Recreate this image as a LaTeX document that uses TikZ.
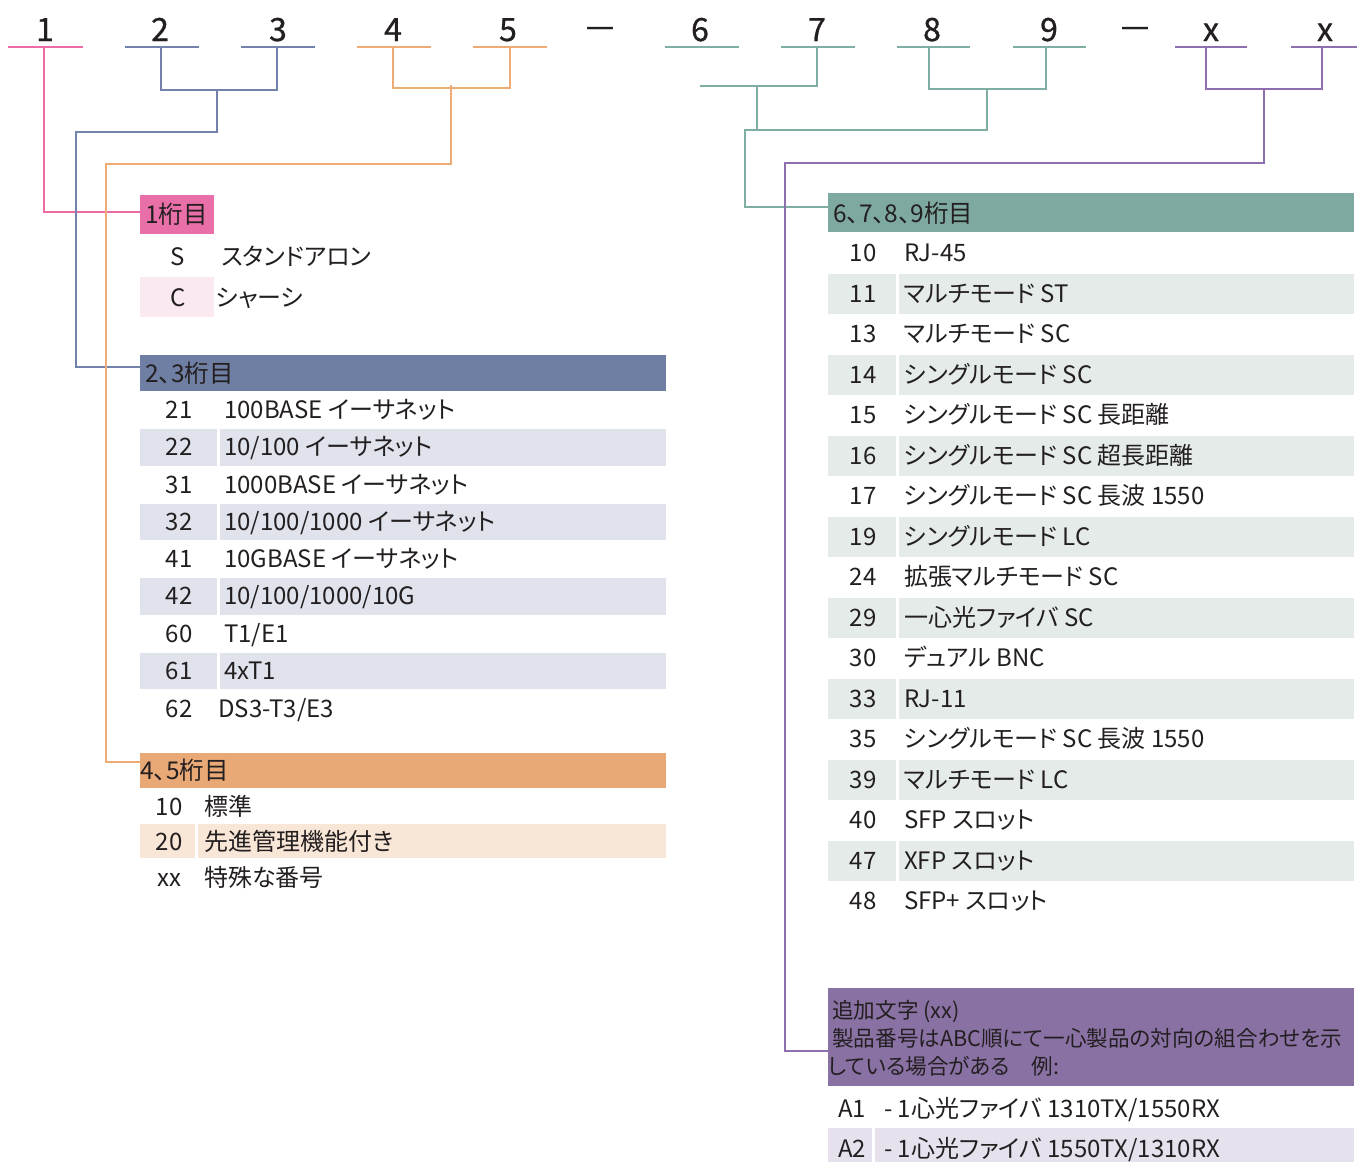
\documentclass[tikz,border=0pt]{standalone}
\usepackage{fontspec}
\setmainfont{Noto Sans CJK JP}[RawFeature=+palt]
\newfontfamily\topfont{Noto Sans CJK JP}[FakeBold=0.8]
\definecolor{txt}{HTML}{231F20}
\definecolor{pinkL}{HTML}{EC6DA6}
\definecolor{pinkH}{HTML}{E86FA7}
\definecolor{pinkS}{HTML}{FBE9F1}
\definecolor{blueL}{HTML}{7282A8}
\definecolor{blueH}{HTML}{6F7FA3}
\definecolor{blueS}{HTML}{E0E3EC}
\definecolor{oraL}{HTML}{EEAB74}
\definecolor{oraH}{HTML}{E8A976}
\definecolor{oraS}{HTML}{F8E6D6}
\definecolor{tealL}{HTML}{80AEA5}
\definecolor{tealH}{HTML}{7EA9A1}
\definecolor{tealS}{HTML}{E5EBE9}
\definecolor{purL}{HTML}{8E6FAD}
\definecolor{purH}{HTML}{8971A4}
\definecolor{purS}{HTML}{E7E1EE}
\begin{document}
\begin{tikzpicture}[x=1pt,y=-1pt,
  wire/.style={line width=2.5pt},
  dig/.style={font=\topfont\fontsize{32}{32}\selectfont, text=txt, inner sep=0pt, anchor=base},
  num/.style={font=\fontsize{24}{24}\selectfont, text=txt, inner sep=0pt, anchor=base},
  desc/.style={font=\fontsize{24}{24}\selectfont, text=txt, inner sep=0pt, anchor=base west},
  hbox/.style={inner sep=0pt, outer sep=0pt, anchor=north west},
  htext/.style={font=\fontsize{24.5}{24.5}\selectfont, text=txt, inner sep=0pt, anchor=base west},
  ptext/.style={font=\fontsize{21.6}{21.6}\selectfont, text=txt, inner sep=0pt, anchor=base west},
]
\useasboundingbox (0,0) rectangle (1357,1162);
\fill[white] (0,0) rectangle (1357,1162);

% ---------- top digit labels ----------
\node[dig] (d1) at (45,41) {1};
\node[dig] (d2) at (160,41) {2};
\node[dig] (d3) at (278,41) {3};
\node[dig] (d4) at (393,41) {4};
\node[dig] (d5) at (508,41) {5};
\node[dig] (dashA) at (600,37) {—};
\node[dig] (d6) at (700,41) {6};
\node[dig] (d7) at (817,41) {7};
\node[dig] (d8) at (932,41) {8};
\node[dig] (d9) at (1049,41) {9};
\node[dig] (dashB) at (1135,37) {—};
\node[dig] (dx1) at (1211,41) {x};
\node[dig] (dx2) at (1325,41) {x};

% underlines
\draw[wire,pinkL] (8,47) -- (83,47);
\draw[wire,blueL] (125,47) -- (199,47);
\draw[wire,blueL] (241,47) -- (315,47);
\draw[wire,oraL] (357,47) -- (431,47);
\draw[wire,oraL] (473,47) -- (547,47);
\draw[wire,tealL] (665,47) -- (739,47);
\draw[wire,tealL] (781,47) -- (855,47);
\draw[wire,tealL] (897,47) -- (970,47);
\draw[wire,tealL] (1013,47) -- (1086,47);
\draw[wire,purL] (1175,47) -- (1247,47);
\draw[wire,purL] (1291,47) -- (1357,47);

% ---------- headers ----------
\node[hbox, fill=pinkH, minimum width=74pt, minimum height=39pt] (h1) at (140,195) {};
\node[hbox, fill=blueH, minimum width=526pt, minimum height=36pt] (h23) at (140,355) {};
\node[hbox, fill=oraH, minimum width=526pt, minimum height=35pt] (h45) at (140,753) {};
\node[hbox, fill=tealH, minimum width=526pt, minimum height=39pt] (h69) at (828,193) {};
\node[hbox, fill=purH, minimum width=526pt, minimum height=98pt] (hxx) at (828,988) {};

\node[htext] (h1t) at (145,223) {1桁目};
\node[htext] (h23t) at (145,382) {2、3桁目};
\node[htext] (h45t) at (140,779) {4、5桁目};
\node[htext] (h69t) at (833,222) {6、7、8、9桁目};
\node[ptext] (hxx1) at (832,1018) {追加文字 (xx)};
\node[ptext] (hxx2) at (832,1046) {製品番号はABC順にて一心製品の対向の組合わせを示};
\node[ptext] (hxx3) at (828,1074) {している場合がある\hspace{1em}例:};

% ---------- connector coordinates ----------
\coordinate (t1) at (44,47);   \coordinate (e1) at (140,212);
\coordinate (t2) at (161,47);  \coordinate (t3) at (277,47);
\coordinate (b23) at (217,90); \coordinate (k23) at (217,132);
\coordinate (v23) at (76,132); \coordinate (e23) at (140,367);
\coordinate (t4) at (393,47);  \coordinate (t5) at (510,47);
\coordinate (b45) at (451,88); \coordinate (k45) at (451,164);
\coordinate (v45) at (106,164); \coordinate (e45) at (140,762);
\coordinate (t7) at (817,47);  \coordinate (f67) at (700,86);
\coordinate (b67) at (757,86); \coordinate (k67) at (757,130);
\coordinate (t8) at (929,47);  \coordinate (t9) at (1046,47);
\coordinate (b89) at (987,89); \coordinate (k89) at (987,130);
\coordinate (v69) at (745,130); \coordinate (e69) at (828,207);
\coordinate (tx1) at (1206,47); \coordinate (tx2) at (1322,47);
\coordinate (bxx) at (1264,89); \coordinate (kxx) at (1264,163);
\coordinate (vxx) at (785,163); \coordinate (exx) at (828,1051);

% ---------- connectors ----------
\draw[wire,pinkL] (t1) |- (e1);
\draw[wire,tealL] (t7) |- (f67);
\draw[wire,tealL] (b67) -- (k67);
\draw[wire,tealL] (t8) |- (b89) -| (t9);
\draw[wire,tealL] (b89) -- (k89) -- (v69) |- (e69);
\draw[wire,blueL] (t2) |- (b23) -| (t3);
\draw[wire,blueL] (b23) -- (k23) -- (v23) |- (e23);
\draw[wire,oraL] (t4) |- (b45) -| (t5);
\draw[wire,oraL] ([yshift=3pt]b45) -- (k45) -- (v45) |- (e45);
\draw[wire,purL] (tx1) |- (bxx) -| (tx2);
\draw[wire,purL] (bxx) -- (kxx) -- (vxx) |- (exx);

% ---------- 1st digit table ----------
\fill[pinkS] (140,277) rectangle (214,317);
\node[num] (sS) at (178,265) {S};
\node[desc] (sSt) at (221,265) {スタンドアロン};
\node[num] (sC) at (178,306) {C};
\node[desc] (sCt) at (216,306) {シャーシ};

% ---------- 2,3 digit table ----------
\foreach \n/\t [count=\i from 0] in {21/{100BASE イーサネット},22/{10/100 イーサネット},31/{1000BASE イーサネット},32/{10/100/1000 イーサネット},41/{10GBASE イーサネット},42/{10/100/1000/10G},60/{T1/E1},61/{4xT1}}{
  \pgfmathsetmacro{\ya}{391+37.25*\i}
  \pgfmathsetmacro{\yb}{391+37.25*(\i+1)}
  \pgfmathsetmacro{\yc}{391+37.25*(\i+0.5)+9}
  \ifodd\i
    \fill[blueS] (140,\ya+1) rectangle (217,\yb);
    \fill[blueS] (220,\ya+1) rectangle (666,\yb);
  \fi
  \node[num] (bn\n) at (179,\yc) {\n};
  \node[desc] (bt\n) at (224,\yc) {\t};
}
\node[num] (bn62) at (179,717) {62};
\node[desc] (bt62) at (218,717) {DS3-T3/E3};

% ---------- 4,5 digit table ----------
\fill[oraS] (140,824) rectangle (195,858);
\fill[oraS] (198,824) rectangle (666,858);
\node[num] (on10) at (169,815) {10};
\node[desc] (ot10) at (204,815) {標準};
\node[num] (on20) at (169,850.5) {20};
\node[desc] (ot20) at (204,850.5) {先進管理機能付き};
\node[num] (onxx) at (169,886) {xx};
\node[desc] (otxx) at (204,886) {特殊な番号};

% ---------- 6,7,8,9 digit table ----------
\foreach \n/\t [count=\i from 0] in {10/{RJ-45},11/{マルチモード ST},13/{マルチモード SC},14/{シングルモード SC},15/{シングルモード SC 長距離},16/{シングルモード SC 超長距離},17/{シングルモード SC 長波 1550},19/{シングルモード LC},24/{拡張マルチモード SC},29/{一心光ファイバ SC},30/{デュアル BNC},33/{RJ-11},35/{シングルモード SC 長波 1550},39/{マルチモード LC},40/{SFP スロット},47/{XFP スロット},48/{SFP+ スロット}}{
  \pgfmathsetmacro{\ya}{232.5+40.5*\i}
  \pgfmathsetmacro{\yb}{232.5+40.5*(\i+1)}
  \pgfmathsetmacro{\yc}{232.5+40.5*(\i+0.5)+9}
  \ifodd\i
    \fill[tealS] (828,\ya+1) rectangle (896,\yb);
    \fill[tealS] (899,\ya+1) rectangle (1354,\yb);
  \fi
  \node[num] (tn\n) at (863,\yc) {\n};
  \node[desc] (tt\n) at (904,\yc) {\t};
}

% ---------- xx table ----------
\fill[purS] (828,1128) rectangle (872,1162);
\fill[purS] (875,1128) rectangle (1354,1162);
\node[num] (pnA1) at (852,1117) {A1};
\node[desc] (ptA1) at (884,1117) {- 1心光ファイバ 1310TX/1550RX};
\node[num] (pnA2) at (852,1157) {A2};
\node[desc] (ptA2) at (884,1157) {- 1心光ファイバ 1550TX/1310RX};
\end{tikzpicture}
\end{document}
